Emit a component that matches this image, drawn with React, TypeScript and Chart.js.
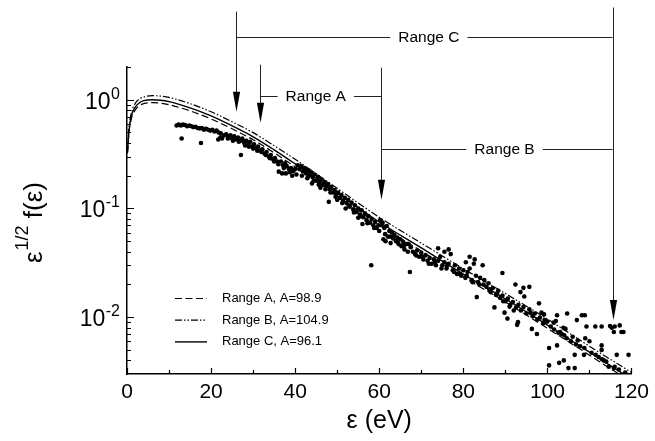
import { useEffect, useRef } from "react";
import { Chart, registerables } from "chart.js";

Chart.register(...registerables);

// ---------- data ----------
const curveEnergy = [0.1, 0.5, 1, 2, 3, 4, 6, 8, 10, 15, 20, 25, 30, 35, 40, 50, 60, 70, 80, 90, 100, 110, 120];
const rangeA = [0.32, 0.51, 0.66, 0.81, 0.885, 0.92, 0.94, 0.93, 0.9, 0.79, 0.665, 0.54, 0.428, 0.325, 0.241, 0.13, 0.0705, 0.0406, 0.0234, 0.0138, 0.0079, 0.00447, 0.00252];
const rangeB = [0.33, 0.56, 0.75, 0.93, 1.02, 1.06, 1.09, 1.08, 1.05, 0.92, 0.775, 0.627, 0.498, 0.378, 0.283, 0.153, 0.083, 0.048, 0.0279, 0.0165, 0.0096, 0.0054, 0.0031];
const rangeC = [0.325, 0.53, 0.7, 0.86, 0.94, 0.98, 1.0, 0.99, 0.96, 0.84, 0.71, 0.575, 0.456, 0.346, 0.257, 0.139, 0.075, 0.0433, 0.0249, 0.0147, 0.00844, 0.00476, 0.00269];
const curveLabels = ["Range A, A=98.9", "Range B, A=104.9", "Range C, A=96.1"];

const measured: [number, number][] = [
  [11.8, 0.58], [12.3, 0.59], [12.8, 0.58], [13.0, 0.44], [13.3, 0.59], [13.8, 0.585], [14.3, 0.57], [14.8, 0.58],
  [15.3, 0.57], [15.8, 0.56], [16.3, 0.565], [16.8, 0.55], [17.3, 0.545], [17.6, 0.4], [17.8, 0.55], [18.3, 0.53],
  [18.8, 0.54], [19.3, 0.53], [19.8, 0.52], [20.3, 0.53], [20.8, 0.51], [21.3, 0.52], [21.7, 0.43], [21.8, 0.5],
  [22.2, 0.45], [22.3, 0.49], [22.6, 0.44], [23.1, 0.47], [23.6, 0.48], [24.1, 0.46], [24.6, 0.47], [25.0, 0.44],
  [25.5, 0.46], [26.0, 0.43], [26.4, 0.45], [26.9, 0.42], [27.1, 0.31], [27.4, 0.44], [27.9, 0.4], [28.4, 0.42],
  [28.9, 0.39], [29.3, 0.41], [29.8, 0.37], [30.2, 0.39], [30.7, 0.36], [31.2, 0.37], [31.7, 0.34], [32.2, 0.35],
  [32.7, 0.32], [33.2, 0.33], [33.7, 0.3], [34.2, 0.31], [34.7, 0.285], [35.2, 0.29], [35.7, 0.27], [36.1, 0.218],
  [36.6, 0.27], [36.9, 0.21], [37.1, 0.25], [37.6, 0.26], [37.8, 0.21], [38.0, 0.245], [38.5, 0.23], [39.0, 0.235],
  [39.3, 0.2], [39.5, 0.22], [40.0, 0.23],
  [24.0, 0.44], [25.2, 0.42], [26.6, 0.41], [27.6, 0.42], [28.1, 0.38], [29.0, 0.37], [30.0, 0.355], [31.0, 0.34],
  [32.0, 0.33], [33.0, 0.31], [34.0, 0.29], [35.0, 0.27], [36.0, 0.255], [37.3, 0.235], [38.7, 0.215], [40.3, 0.205],
  [40.6, 0.25], [41.0, 0.23], [41.4, 0.245], [41.8, 0.22], [42.2, 0.235], [42.6, 0.21], [43.0, 0.225], [43.4, 0.2],
  [43.8, 0.215], [44.0, 0.17], [44.2, 0.195], [44.6, 0.205], [45.0, 0.18], [45.4, 0.195], [45.8, 0.175], [46.0, 0.155],
  [46.2, 0.185], [46.6, 0.165], [47.0, 0.175], [47.4, 0.16], [47.8, 0.168], [48.0, 0.115], [48.2, 0.15], [48.6, 0.158],
  [49.0, 0.14], [49.4, 0.148], [49.8, 0.135], [50.0, 0.12], [50.2, 0.14], [50.6, 0.125], [51.0, 0.133], [51.4, 0.118],
  [51.8, 0.125], [52.0, 0.1], [52.2, 0.112], [52.6, 0.12], [53.0, 0.104], [53.4, 0.113], [53.8, 0.098], [54.2, 0.107],
  [54.6, 0.093], [55.0, 0.082], [55.0, 0.1], [55.4, 0.088], [55.8, 0.096], [56.0, 0.072], [56.2, 0.083], [56.6, 0.09],
  [57.0, 0.078], [57.4, 0.085], [57.8, 0.074], [58.1, 0.03], [58.2, 0.08], [58.6, 0.07], [59.0, 0.075], [59.4, 0.066],
  [59.8, 0.07],
  [41.6, 0.2], [42.9, 0.19], [44.4, 0.18], [45.6, 0.165], [47.2, 0.15], [48.4, 0.14], [49.6, 0.128], [51.2, 0.112],
  [52.8, 0.105], [54.0, 0.092], [55.6, 0.085], [57.2, 0.073], [58.8, 0.066],
  [60.2, 0.078], [60.5, 0.07], [60.8, 0.074], [61.0, 0.052], [61.2, 0.066], [61.5, 0.05], [61.8, 0.069], [62.1, 0.055],
  [62.4, 0.062], [62.7, 0.048], [63.0, 0.06], [63.3, 0.053], [63.6, 0.057], [64.0, 0.05], [64.3, 0.054], [64.6, 0.047],
  [65.0, 0.052], [65.3, 0.045], [65.7, 0.049], [66.0, 0.042], [66.4, 0.047], [66.8, 0.04], [67.3, 0.026], [67.5, 0.044],
  [68.0, 0.04], [68.5, 0.038], [69.0, 0.041], [69.5, 0.036], [70.0, 0.039], [70.5, 0.034], [71.0, 0.037], [71.5, 0.033],
  [72.0, 0.035], [72.5, 0.031], [73.0, 0.034], [73.5, 0.03], [74.0, 0.043], [74.0, 0.033], [74.5, 0.036], [75.0, 0.03],
  [75.5, 0.04], [75.5, 0.032], [76.0, 0.028], [76.5, 0.042], [76.5, 0.031], [77.0, 0.038], [77.5, 0.027], [78.0, 0.03],
  [78.5, 0.025], [79.0, 0.028], [79.5, 0.024], [80.0, 0.027], [80.5, 0.023], [80.6, 0.032], [81.0, 0.026], [81.5, 0.036],
  [81.5, 0.028], [82.0, 0.022], [82.5, 0.031], [82.7, 0.034], [83.0, 0.024], [83.2, 0.0153], [83.5, 0.021], [84.0, 0.023],
  [84.6, 0.03], [84.8, 0.02],
  [60.0, 0.062], [61.4, 0.058], [62.8, 0.055], [64.4, 0.049], [65.8, 0.045], [67.0, 0.047], [68.8, 0.037], [70.2, 0.036],
  [71.8, 0.031], [73.2, 0.032], [74.8, 0.028], [76.2, 0.03], [77.8, 0.026], [79.2, 0.025], [80.8, 0.024], [82.2, 0.021],
  [83.8, 0.02],
  [85.0, 0.022], [85.5, 0.019], [86.0, 0.0205], [86.5, 0.017], [87.0, 0.0185], [87.4, 0.0123], [87.8, 0.016], [88.3, 0.0175],
  [88.8, 0.015], [89.3, 0.0255], [89.3, 0.0158], [89.8, 0.011], [90.0, 0.014], [90.5, 0.0097], [90.6, 0.0148], [91.2, 0.013],
  [91.8, 0.0138], [92.4, 0.02], [92.5, 0.0122], [92.8, 0.0085], [93.0, 0.009], [93.1, 0.013], [93.6, 0.017], [93.7, 0.0115],
  [94.3, 0.0186], [94.3, 0.0124], [94.5, 0.0155], [95.0, 0.0108], [95.7, 0.019], [95.7, 0.0118], [96.0, 0.011], [96.3, 0.0078],
  [96.5, 0.0102], [97.0, 0.0108], [97.5, 0.007], [97.6, 0.0095], [98.0, 0.0134], [98.2, 0.0099], [98.6, 0.011], [99.0, 0.0088],
  [99.3, 0.0094], [99.6, 0.0092],
  [86.2, 0.018], [88.0, 0.0165], [89.5, 0.014], [91.0, 0.0125], [92.0, 0.0115],
  [99.2, 0.0106], [100.0, 0.0091], [100.4, 0.0052], [100.4, 0.0036], [100.8, 0.0082], [101.5, 0.0089], [101.6, 0.0077], [102.0, 0.0092],
  [102.3, 0.0104], [102.3, 0.0055], [102.6, 0.0072], [102.8, 0.0038], [103.0, 0.0073], [103.4, 0.007], [103.8, 0.008], [103.9, 0.004],
  [104.0, 0.0068], [104.3, 0.0078], [104.6, 0.0064], [104.7, 0.0108], [105.0, 0.0034], [105.6, 0.006], [106.0, 0.0066], [106.5, 0.0045],
  [106.5, 0.0034], [106.8, 0.0056], [107.0, 0.0094], [107.2, 0.0061], [107.8, 0.0054], [108.2, 0.0104], [108.7, 0.0045], [108.8, 0.0052],
  [108.9, 0.0104], [109.0, 0.0064], [109.3, 0.0082], [110.0, 0.006], [110.5, 0.0047], [111.4, 0.0082], [111.5, 0.0045], [112.2, 0.0043],
  [112.9, 0.0082], [112.9, 0.0055], [112.9, 0.005], [113.0, 0.0041], [113.4, 0.004], [114.0, 0.0039], [114.6, 0.0035], [114.9, 0.0083],
  [115.3, 0.008], [115.8, 0.0073], [115.8, 0.0034], [116.0, 0.0082], [116.0, 0.0035], [116.5, 0.0045], [117.0, 0.0033], [117.2, 0.0084],
  [117.6, 0.0073], [118.1, 0.0073], [118.5, 0.0031], [119.3, 0.0045],
];

const xTicks = [0, 20, 40, 60, 80, 100, 120];
const xMinorTicks = [10, 30, 50, 70, 90, 110];
const yDecades = [0, -1, -2];
const yMinorTicks = [2, 0.9, 0.8, 0.7, 0.6, 0.5, 0.4, 0.3, 0.2, 0.09, 0.08, 0.07, 0.06, 0.05, 0.04, 0.03, 0.02, 0.009, 0.008, 0.007, 0.006, 0.005, 0.004];

// range annotations (energies in eV, heights in y-data units)
const arrowEnergy = [26.0, 31.7, 60.5, 115.5];
const arrowTop = [6.47, 2.1, 1.97, 7.05];
const arrowTip = [0.775, 0.614, 0.12, 0.0094];
const rangeNames = ["Range C", "Range A", "Range B"];
const rangeStart = [26.0, 31.7, 60.5];
const rangeEnd = [115.5, 60.5, 115.5];
const rangeLabelAt = [71.8, 44.9, 89.8];
const rangeLevel = [3.81, 1.09, 0.353];

const FONT = '"Liberation Sans", Arial, Helvetica, sans-serif';

const decorations = {
  id: "decorations",
  afterDraw(chart: any) {
    const { ctx, chartArea, scales } = chart;
    const xs = scales.x;
    const ys = scales.y;
    const { left, right, top, bottom } = chartArea;
    ctx.save();
    ctx.strokeStyle = "#000";
    ctx.fillStyle = "#000";

    // inward tick marks
    ctx.lineWidth = 1.2;
    ctx.beginPath();
    for (const v of xTicks) {
      const px = Math.round(xs.getPixelForValue(v)) + 0.5;
      ctx.moveTo(px, bottom);
      ctx.lineTo(px, bottom - 6);
    }
    for (const v of xMinorTicks) {
      const px = Math.round(xs.getPixelForValue(v)) + 0.5;
      ctx.moveTo(px, bottom);
      ctx.lineTo(px, bottom - 4);
    }
    for (const e of yDecades) {
      const py = Math.round(ys.getPixelForValue(Math.pow(10, e))) + 0.5;
      ctx.moveTo(left, py);
      ctx.lineTo(left + 7, py);
    }
    for (const v of yMinorTicks) {
      const py = Math.round(ys.getPixelForValue(v)) + 0.5;
      ctx.moveTo(left, py);
      ctx.lineTo(left + 4, py);
    }
    ctx.stroke();

    // y tick labels with superscript exponents
    ctx.textAlign = "left";
    ctx.textBaseline = "alphabetic";
    for (const e of yDecades) {
      const py = ys.getPixelForValue(Math.pow(10, e));
      const expText = e === 0 ? "0" : "-" + Math.abs(e);
      ctx.font = `16px ${FONT}`;
      const ew = ctx.measureText(expText).width;
      ctx.font = `23px ${FONT}`;
      const bw = ctx.measureText("10").width;
      const rightEdge = left - 7;
      ctx.fillText("10", rightEdge - ew - bw - 0.5, py + 9);
      ctx.font = `16px ${FONT}`;
      ctx.fillText(expText, rightEdge - ew, py - 1);
    }

    // y title: ε^{1/2} f(ε)
    ctx.save();
    ctx.translate(42, (top + bottom) / 2 + 2);
    ctx.rotate(-Math.PI / 2);
    const mainF = `26px ${FONT}`;
    const supF = `18px ${FONT}`;
    ctx.font = mainF;
    const w1 = ctx.measureText("ε").width;
    const w3 = ctx.measureText(" f(ε)").width;
    ctx.font = supF;
    const w2 = ctx.measureText("1/2").width;
    let sx = -(w1 + w2 + w3 + 1) / 2;
    ctx.font = mainF;
    ctx.fillText("ε", sx, 0);
    sx += w1 + 1;
    ctx.font = supF;
    ctx.fillText("1/2", sx, -14);
    sx += w2;
    ctx.font = mainF;
    ctx.fillText(" f(ε)", sx, 0);
    ctx.restore();

    // x title
    ctx.font = `25px ${FONT}`;
    ctx.textAlign = "center";
    ctx.fillText("ε (eV)", (left + right) / 2, 428);

    // legend
    const lineDatasets = chart.data.datasets.slice(0, 3);
    ctx.textAlign = "left";
    ctx.textBaseline = "middle";
    ctx.font = `13px ${FONT}`;
    lineDatasets.forEach((ds: any, i: number) => {
      const ly = 298.5 + i * 21.7;
      ctx.save();
      ctx.lineWidth = ds.borderWidth;
      ctx.setLineDash(ds.borderDash || []);
      ctx.beginPath();
      ctx.moveTo(175, ly);
      ctx.lineTo(207, ly);
      ctx.stroke();
      ctx.restore();
      ctx.fillText(ds.label, 222, ly);
    });

    // range annotations
    ctx.strokeStyle = "#222";
    ctx.lineWidth = 1;
    ctx.beginPath();
    arrowEnergy.forEach((en, i) => {
      const px = Math.round(xs.getPixelForValue(en)) + 0.5;
      ctx.moveTo(px, ys.getPixelForValue(arrowTop[i]));
      ctx.lineTo(px, ys.getPixelForValue(arrowTip[i]) - 10);
    });
    ctx.font = `15.5px ${FONT}`;
    ctx.textBaseline = "middle";
    ctx.textAlign = "center";
    rangeNames.forEach((name, i) => {
      const py = Math.round(ys.getPixelForValue(rangeLevel[i])) + 0.5;
      const x0 = xs.getPixelForValue(rangeStart[i]);
      const x1 = xs.getPixelForValue(rangeEnd[i]);
      const lx = xs.getPixelForValue(rangeLabelAt[i]);
      const w = ctx.measureText(name).width;
      ctx.moveTo(x0, py);
      ctx.lineTo(lx - w / 2 - 8, py);
      ctx.moveTo(lx + w / 2 + 8, py);
      ctx.lineTo(x1, py);
    });
    ctx.stroke();
    rangeNames.forEach((name, i) => {
      const py = ys.getPixelForValue(rangeLevel[i]);
      const lx = xs.getPixelForValue(rangeLabelAt[i]);
      ctx.fillText(name, lx, py + 1);
    });
    // arrow heads
    ctx.fillStyle = "#000";
    arrowEnergy.forEach((en, i) => {
      const px = Math.round(xs.getPixelForValue(en)) + 0.5;
      const tip = ys.getPixelForValue(arrowTip[i]);
      ctx.beginPath();
      ctx.moveTo(px, tip);
      ctx.lineTo(px - 3.6, tip - 20);
      ctx.lineTo(px + 3.6, tip - 20);
      ctx.closePath();
      ctx.fill();
    });

    ctx.restore();
  },
};

export default function App() {
  const ref = useRef<HTMLCanvasElement>(null);
  useEffect(() => {
    if (!ref.current) return;
    const lineDs = (label: string, values: number[], dash: number[], width: number) => ({
      type: "line" as const,
      label,
      data: curveEnergy.map((x, i) => ({ x, y: values[i] })),
      borderColor: "#000",
      borderWidth: width,
      borderDash: dash,
      pointRadius: 0,
      fill: false,
      cubicInterpolationMode: "monotone" as const,
    });
    const chart = new Chart(ref.current, {
      type: "line",
      data: {
        datasets: [
          lineDs(curveLabels[0], rangeA, [7, 3.5], 1.2),
          lineDs(curveLabels[1], rangeB, [7, 2, 1.5, 2, 1.5, 2], 1.2),
          lineDs(curveLabels[2], rangeC, [], 1.4),
          {
            type: "scatter" as const,
            label: "measured",
            data: measured.map(([x, y]) => ({ x, y })),
            backgroundColor: "#000",
            borderColor: "#000",
            borderWidth: 0,
            pointRadius: 2.3,
            showLine: false,
          } as any,
        ],
      },
      options: {
        responsive: false,
        animation: false,
        events: [],
        layout: { padding: { left: 0, top: 67, right: 20, bottom: 0 } },
        plugins: { legend: { display: false }, tooltip: { enabled: false } },
        scales: {
          x: {
            type: "linear",
            min: 0,
            max: 120,
            grid: { display: false, drawTicks: false },
            border: { display: true, color: "#000", width: 1.5 },
            ticks: {
              color: "#000",
              font: { family: FONT, size: 21 },
              padding: 6,
              maxRotation: 0,
            },
            afterBuildTicks: (s: any) => {
              s.ticks = xTicks.map((v) => ({ value: v }));
            },
            afterFit: (s: any) => {
              s.height = 67;
            },
          },
          y: {
            type: "logarithmic",
            min: 0.003,
            max: 2,
            grid: { display: false, drawTicks: false },
            border: { display: true, color: "#000", width: 1.5 },
            ticks: { display: false },
            afterFit: (s: any) => {
              s.width = 127;
            },
          },
        },
      } as any,
      plugins: [decorations],
    });
    return () => chart.destroy();
  }, []);
  return (
    <div style={{ position: "fixed", left: 0, top: 0, width: 655, height: 441, background: "#fff" }}>
      <canvas ref={ref} width={655} height={441} style={{ width: 655, height: 441, display: "block" }} />
    </div>
  );
}
